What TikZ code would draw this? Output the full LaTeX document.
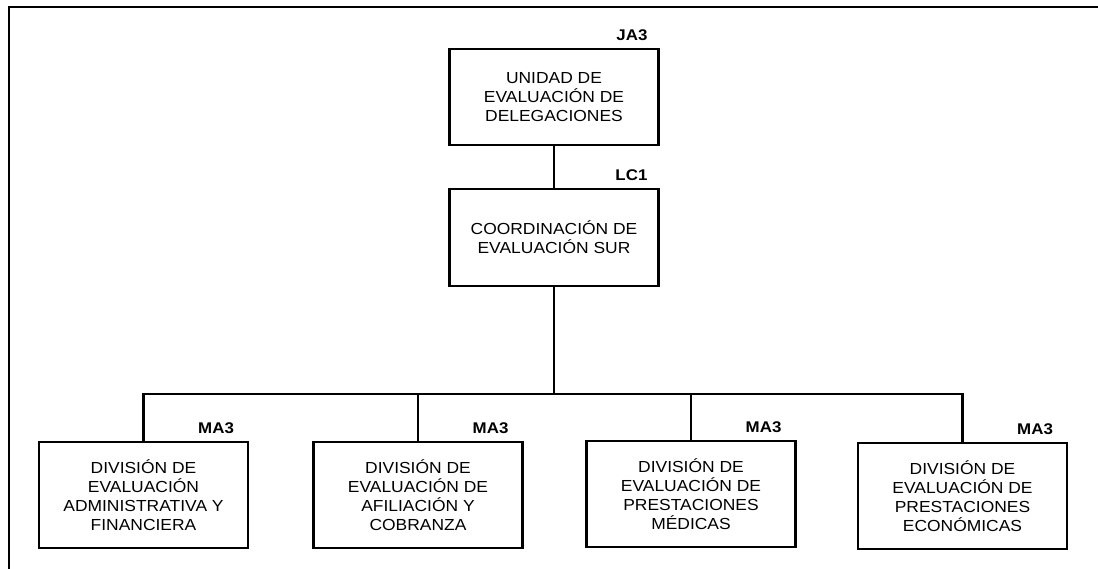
\documentclass[tikz,border=0pt]{standalone}
\usepackage{fontspec}
\setmainfont{Liberation Sans}[FakeStretch=1.09]
\usepackage{tikz}
\usetikzlibrary{positioning}

\begin{document}
\begin{tikzpicture}[x=1pt,y=-1pt]
    % Definición de estilos
    \tikzstyle{unidad}=[draw, line width=2.2pt, rectangle, minimum width=209pt, inner sep=0pt, align=center, font=\fontsize{16}{19}\selectfont]
    \tikzstyle{clave}=[anchor=base east, inner sep=0pt, font=\fontsize{15.5}{18}\selectfont\bfseries]
    \tikzstyle{linea}=[line width=2.2pt]
    \useasboundingbox (0,0) rectangle (1098,569);
    % Marco de la página (solo arriba e izquierda)
    \draw[linea] (9,569) -- (9,7) -- (1098,7);
    % Unidad de evaluación
    \node[unidad, minimum height=96pt] (ued) at (554,97) {UNIDAD DE\\EVALUACIÓN DE\\DELEGACIONES};
    \node[clave] (ja3) at ([xshift=-12pt,yshift=7pt]ued.north east) {JA3};
    % Coordinación
    \node[unidad, minimum height=97pt] (ces) at (554,237.5) {COORDINACIÓN DE\\EVALUACIÓN SUR};
    \node[clave] (lc1) at ([xshift=-12pt,yshift=7pt]ces.north east) {LC1};
    \draw[linea] (ued.south) -- (ces.north);
    % Divisiones
    \node[unidad, minimum height=106pt] (dvaf) at (143.5,495) {DIVISIÓN DE\\EVALUACIÓN\\ADMINISTRATIVA Y\\FINANCIERA};
    \node[unidad, minimum height=106pt] (dvac) at (418,495) {DIVISIÓN DE\\EVALUACIÓN DE\\AFILIACIÓN Y\\COBRANZA};
    \node[unidad, minimum height=106pt] (dvpm) at (691,494) {DIVISIÓN DE\\EVALUACIÓN DE\\PRESTACIONES\\MÉDICAS};
    \node[unidad, minimum height=106pt] (dvpe) at (962.5,496) {DIVISIÓN DE\\EVALUACIÓN DE\\PRESTACIONES\\ECONÓMICAS};
    \node[clave] (ma1) at ([xshift=-15pt,yshift=7pt]dvaf.north east) {MA3};
    \node[clave] (ma2) at ([xshift=-15pt,yshift=7pt]dvac.north east) {MA3};
    \node[clave] (ma3) at ([xshift=-15pt,yshift=7pt]dvpm.north east) {MA3};
    \node[clave] (ma4) at ([xshift=-15pt,yshift=7pt]dvpe.north east) {MA3};
    % Línea de mando hacia las divisiones
    \coordinate (bus) at (556,394);
    \draw[linea] (ces.south) -- (ces.south |- bus);
    \draw[linea] (dvaf.north) -- (dvaf.north |- bus) -- (dvpe.north |- bus) -- (dvpe.north);
    \draw[linea] (dvac.north) -- (dvac.north |- bus);
    \draw[linea] (dvpm.north) -- (dvpm.north |- bus);
\end{tikzpicture}
\end{document}
